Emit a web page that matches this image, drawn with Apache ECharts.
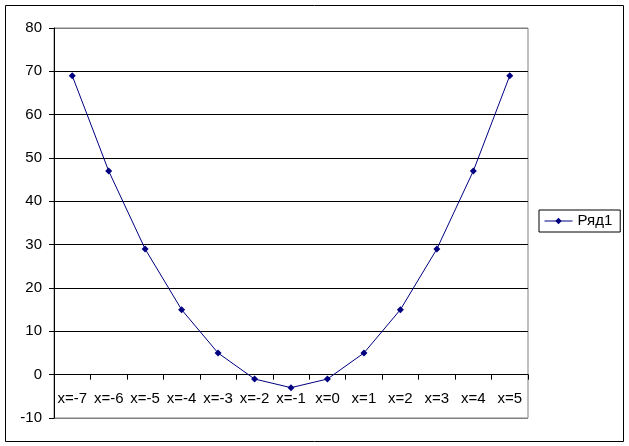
<!DOCTYPE html>
<html><head><meta charset="utf-8">
<script src="https://cdn.jsdelivr.net/npm/echarts@6/dist/echarts.min.js"></script>
<style>html,body{margin:0;padding:0;background:#fff}#c{width:629px;height:446px}</style>
</head><body><div id="c"></div>
<script>
var categories = ['x=-7','x=-6','x=-5','x=-4','x=-3','x=-2','x=-1','x=0','x=1','x=2','x=3','x=4','x=5'];
var seriesName = 'Ряд1';
var values = [69, 47, 29, 15, 5, -1, -3, -1, 5, 15, 29, 47, 69];
var yMin = -10, yMax = 80, yStep = 10;

var chart = echarts.init(document.getElementById('c'), null, {renderer: 'canvas'});
var font = "'Liberation Sans', Arial, sans-serif";
var splitColors = [];
for (var v = yMin; v <= yMax; v += yStep) {
  splitColors.push((v === yMin || v === yMax) ? '#808080' : '#000000');
}
chart.setOption({
  animation: false,
  backgroundColor: '#ffffff',
  textStyle: {fontFamily: font},
  graphic: [{
    type: 'rect', shape: {x: 5.5, y: 5.5, width: 618, height: 436},
    style: {fill: 'none', stroke: '#000', lineWidth: 1}, z: -1
  }],
  grid: {left: 54, top: 28, right: 101, bottom: 28, show: true, borderColor: '#808080', borderWidth: 1, backgroundColor: '#fff'},
  legend: {
    left: 539, top: 210, orient: 'vertical',
    borderColor: '#000', borderWidth: 1, padding: [2, 8, 2, 5],
    itemWidth: 28, itemHeight: 8, itemGap: 4,
    lineStyle: {width: 1},
    textStyle: {fontSize: 15, color: '#000', fontFamily: font, lineHeight: 18},
    data: [seriesName]
  },
  xAxis: {
    type: 'category', data: categories, boundaryGap: true,
    axisLine: {onZero: true, lineStyle: {color: '#000', width: 1}},
    axisTick: {show: true, length: 5, interval: 0, lineStyle: {color: '#000'}},
    axisLabel: {interval: 0, fontSize: 15, color: '#000', margin: -27, fontFamily: font},
    splitLine: {show: false}
  },
  yAxis: {
    type: 'value', min: yMin, max: yMax, interval: yStep,
    axisLine: {show: true, lineStyle: {color: '#000', width: 1}},
    axisTick: {show: true, length: 5, lineStyle: {color: '#000'}},
    axisLabel: {fontSize: 15, color: '#000', margin: 12, fontFamily: font},
    splitLine: {show: true, lineStyle: {color: splitColors, width: 1}}
  },
  series: [{
    name: seriesName, type: 'line', data: values,
    symbol: 'diamond', symbolSize: 7, showSymbol: true,
    itemStyle: {color: '#000080'},
    lineStyle: {color: '#000080', width: 1}
  }]
});
</script></body></html>
